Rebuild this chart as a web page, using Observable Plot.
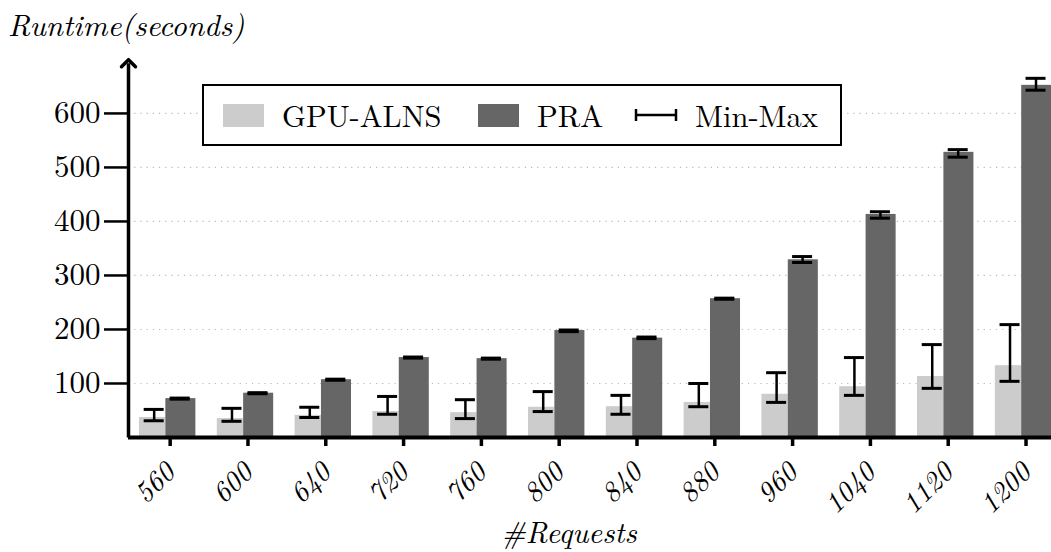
<!DOCTYPE html>
<html>
<head>
<meta charset="utf-8">
<script src="https://cdn.jsdelivr.net/npm/d3@7"></script>
<script src="https://cdn.jsdelivr.net/npm/@observablehq/plot@0.6"></script>
<style>
  body { margin: 0; background: white; }
  #wrap { position: relative; width: 1051px; height: 552px; overflow: hidden; font-family: "Latin Modern Roman", "Liberation Serif", serif; }
  .abs { position: absolute; white-space: nowrap; color: #000; }
  #legend { position: absolute; left: 202px; top: 84px; width: 640px; height: 62px; box-sizing: border-box; border: 2.5px solid #000; background: white; }
  #legend .sw { position: absolute; top: 18px; width: 41px; height: 23px; }
  #legend .tx { position: absolute; top: 0; line-height: 57px; font-size: 30.5px; }
</style>
</head>
<body>
<div id="wrap"></div>
<script>
const categories = [560, 600, 640, 720, 760, 800, 840, 880, 960, 1040, 1120, 1200];
const gpuMean = [37, 35, 41, 48, 46, 56, 57, 65, 80, 94, 113, 133];
const gpuMin  = [31, 30, 37, 43, 35, 48, 43, 57, 65, 78, 91, 104];
const gpuMax  = [52, 54, 56, 76, 70, 85, 78, 100, 120, 148, 172, 209];
const praMean = [72, 82, 107, 148, 146, 198, 184, 257, 329, 413, 528, 652];
const praMin  = [71, 81, 106, 147, 145, 196, 183, 256, 324, 406, 519, 643];
const praMax  = [73, 83, 108, 149, 147, 199, 186, 258, 335, 418, 533, 665];
const yTicks = [100, 200, 300, 400, 500, 600];

const series = ["GPU-ALNS", "PRA"];
const colors = ["#cccccc", "#666666"];
const FONT = "Latin Modern Roman, Liberation Serif, serif";

const idx = categories.map((_, i) => i);
const rows = [];
idx.forEach(i => {
  rows.push({i, s: "GPU-ALNS", v: gpuMean[i], lo: gpuMin[i], hi: gpuMax[i], a: -0.356, b: -0.017, c: -0.167});
  rows.push({i, s: "PRA", v: praMean[i], lo: praMin[i], hi: praMax[i], a: -0.017, b: 0.369, c: 0.167});
});
const capHalf = 0.1285;

const plot = Plot.plot({
  width: 1051,
  height: 552,
  marginLeft: 128,
  marginRight: 0,
  marginTop: 60,
  marginBottom: 115,
  style: {fontFamily: FONT, fontSize: "30px", background: "white", overflow: "visible"},
  x: {type: "linear", domain: [-0.497, 11.366], label: null},
  y: {domain: [0, 698], label: null},
  color: {domain: series, range: colors},
  marks: [
    Plot.ruleY(yTicks, {stroke: "#b8b8b8", strokeWidth: 1.2, strokeDasharray: "1.2,5"}),
    Plot.rect(rows, {x1: d => d.i + d.a, x2: d => d.i + d.b, y1: 0, y2: "v", fill: "s"}),
    Plot.ruleX(rows, {x: d => d.i + d.c, y1: "lo", y2: "hi", stroke: "#000", strokeWidth: 2.5}),
    Plot.ruleY(rows, {y: "lo", x1: d => d.i + d.c - capHalf, x2: d => d.i + d.c + capHalf, stroke: "#000", strokeWidth: 3}),
    Plot.ruleY(rows, {y: "hi", x1: d => d.i + d.c - capHalf, x2: d => d.i + d.c + capHalf, stroke: "#000", strokeWidth: 3}),
    Plot.axisY(yTicks, {tickSize: 24, tickPadding: 4, strokeWidth: 2.5, fontSize: 31, fontFamily: FONT, label: null}),
    Plot.axisX(idx, {tickFormat: i => String(categories[i]), tickRotate: -45, tickSize: 9, tickPadding: 21, strokeWidth: 3.5, fontSize: 28.5, fontFamily: FONT, fontStyle: "italic", dx: 3, label: null}),
    Plot.ruleY([0], {stroke: "#000", strokeWidth: 4}),
    Plot.link([0], {x1: -0.497, x2: -0.497, y1: 0, y2: 693, stroke: "#000", strokeWidth: 3.5, markerEnd: "arrow"})
  ]
});

const wrap = document.getElementById("wrap");
wrap.appendChild(plot);

const title = document.createElement("div");
title.className = "abs";
title.style.cssText = "left:8px; top:8px; font-size:30.5px; line-height:32px; font-style:italic;";
title.textContent = "Runtime(seconds)";
wrap.appendChild(title);

const xlab = document.createElement("div");
xlab.className = "abs";
xlab.style.cssText = "left:369px; width:400px; text-align:center; top:515px; font-size:30px; line-height:32px; font-style:italic;";
xlab.textContent = "#Requests";
wrap.appendChild(xlab);

const legend = document.createElement("div");
legend.id = "legend";
legend.innerHTML =
  `<div class="sw" style="left:19px; background:${colors[0]}"></div>` +
  `<div class="tx" style="left:78px">${series[0]}</div>` +
  `<div class="sw" style="left:274px; background:${colors[1]}"></div>` +
  `<div class="tx" style="left:333px">${series[1]}</div>` +
  `<svg style="position:absolute; left:430px; top:19px" width="46" height="20"><path d="M2,4V16M2,10H42M42,4V16" stroke="#000" stroke-width="2.5" fill="none"/></svg>` +
  `<div class="tx" style="left:491px">Min-Max</div>`;
wrap.appendChild(legend);
</script>
</body>
</html>
